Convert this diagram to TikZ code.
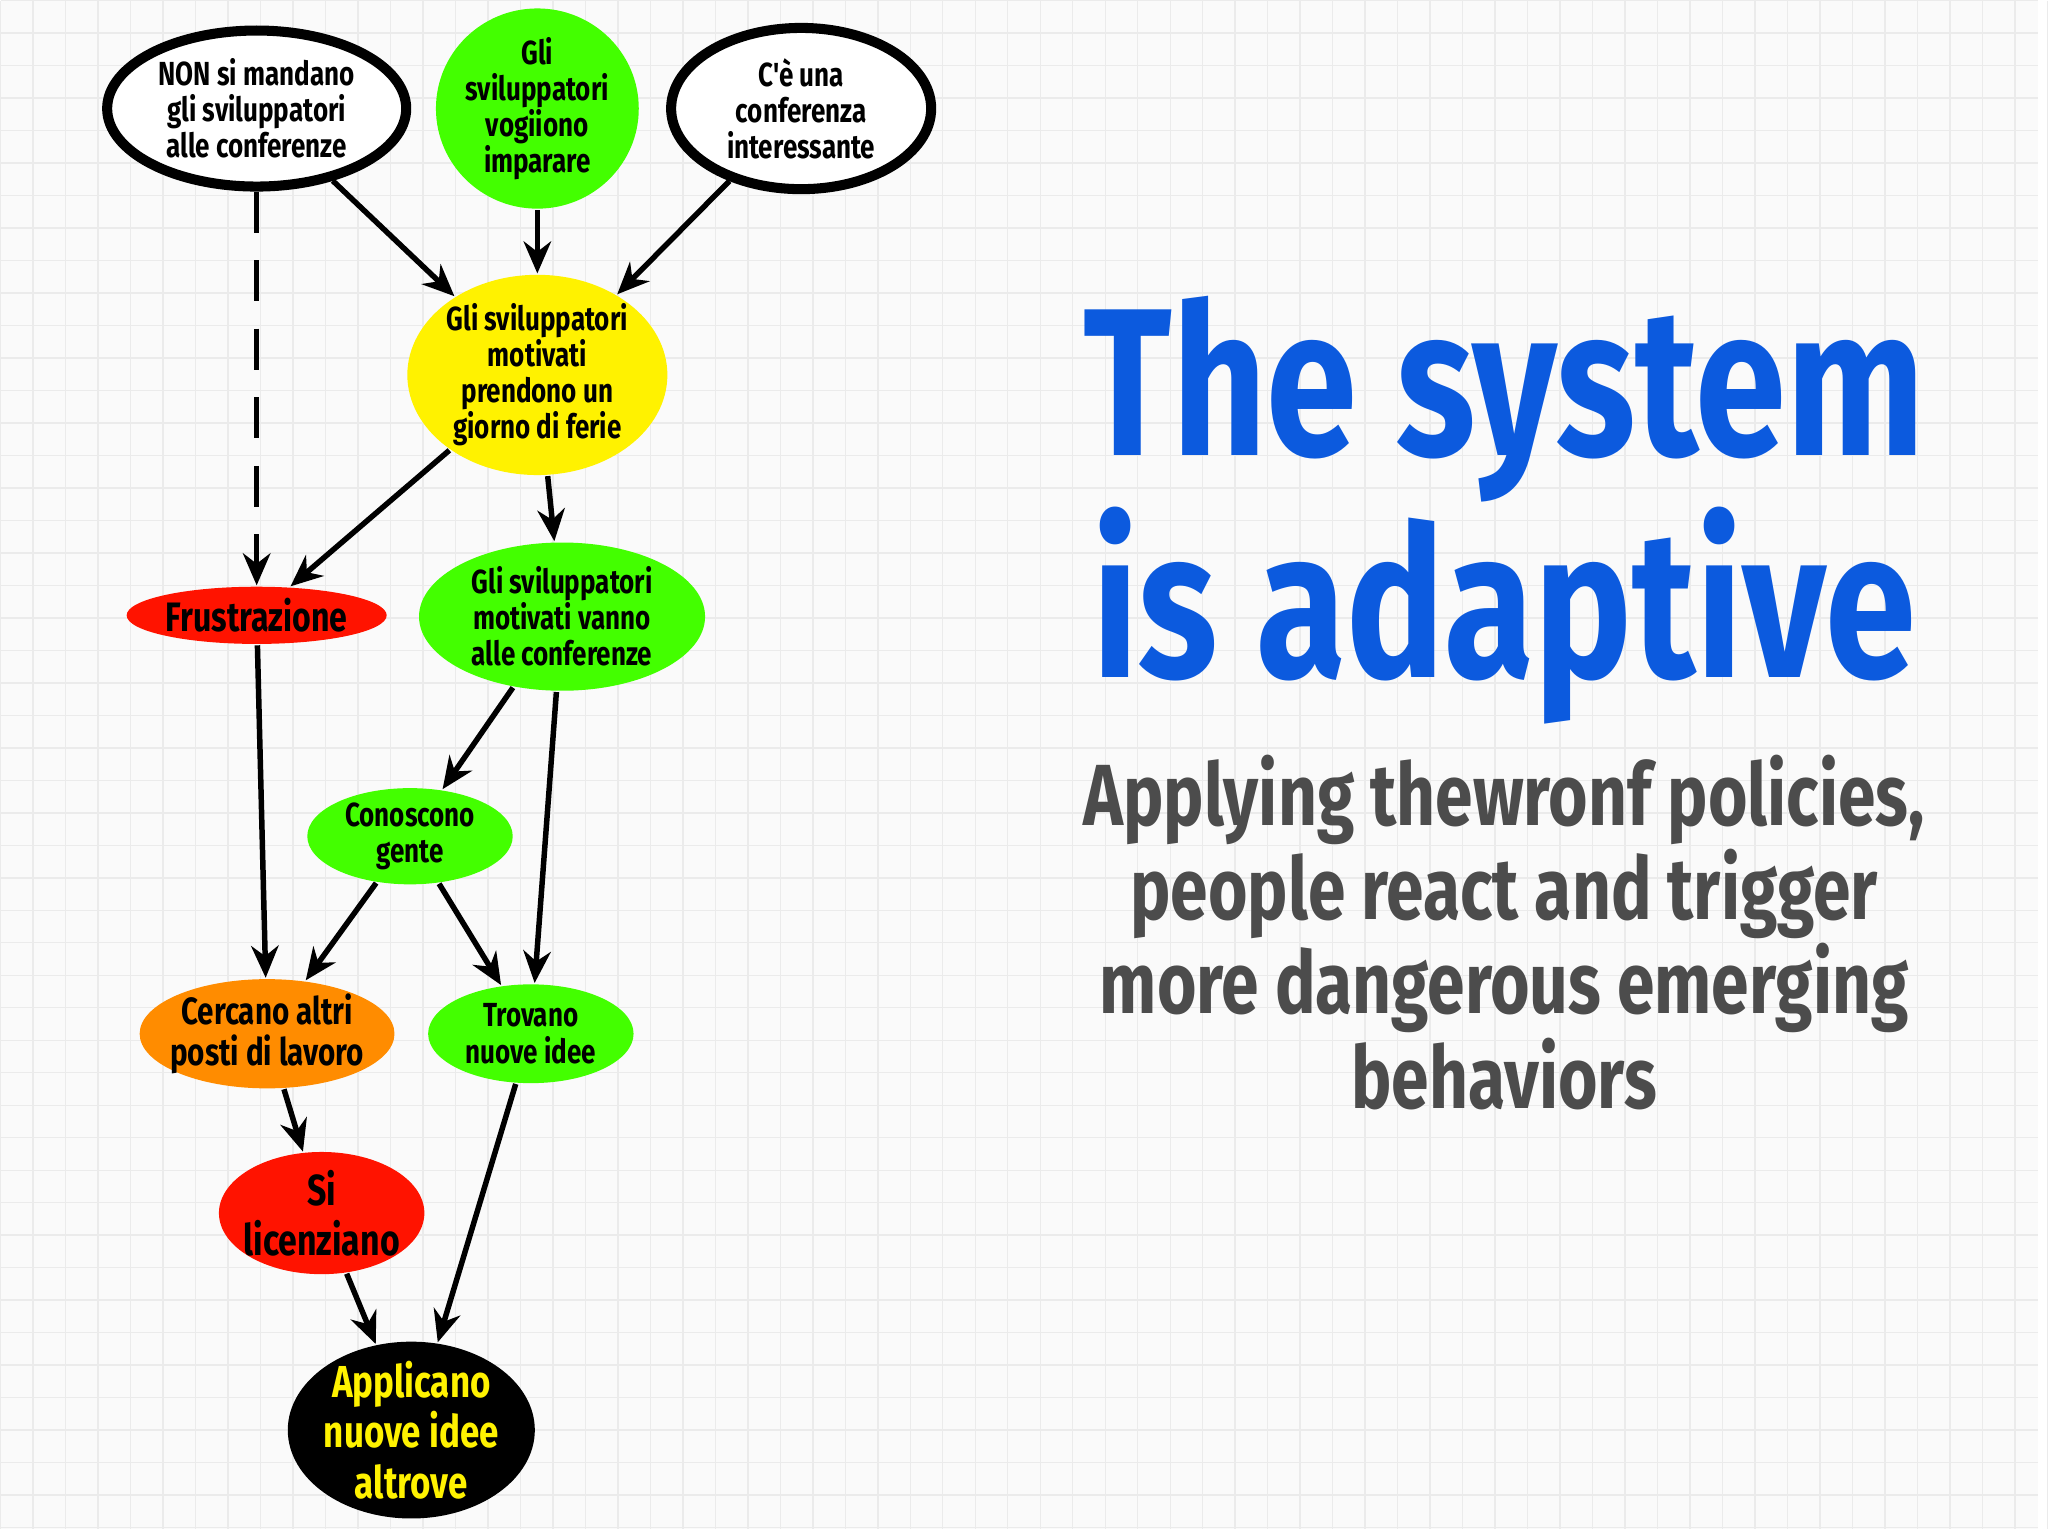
\documentclass[tikz,border=0pt]{standalone}
\usepackage{fontspec}
\setmainfont{Fira Sans}
\newfontfamily\cond[FakeStretch=0.78]{Fira Sans}
\usetikzlibrary{shapes.geometric,arrows.meta}
\definecolor{titleblue}{RGB}{12,90,222}
\begin{document}
\begin{tikzpicture}[x=0.01cm,y=-0.01cm,
  nd/.style={ellipse,inner sep=-2pt,align=center,font=\cond\fontsize{7.3}{7.9}\selectfont\bfseries,line width=0.6pt},
  arr/.style={-{Stealth[length=7pt,width=6pt]},line width=1.2pt}]
\fill[white!96!gray] (0,0) rectangle (1568,1176);
\foreach \i in {0,25,...,1575} \draw[black!8,line width=0.3pt] (\i,0) -- (\i,1176);
\foreach \j in {0,25,...,1175} \draw[black!8,line width=0.3pt] (0,\j) -- (1568,\j);
\useasboundingbox (0,0) rectangle (1568,1176);
\node[nd,draw,line width=2.2pt,fill=white,minimum width=2.30cm,minimum height=1.20cm] (n1) at (197,83) {NON si mandano\\gli sviluppatori\\alle conferenze};
\node[nd,fill=green!65!lime,minimum width=1.56cm,minimum height=1.54cm] (n2) at (413,83) {Gli\\sviluppatori\\vogiiono\\imparare};
\node[nd,draw,line width=2.2pt,fill=white,minimum width=2.00cm,minimum height=1.24cm] (n3) at (616,83) {C'è una\\conferenza\\interessante};
\node[nd,fill=yellow,minimum width=2.00cm,minimum height=1.54cm] (n4) at (413,288) {Gli sviluppatori\\motivati\\prendono un\\giorno di ferie};
\node[nd,fill=red!85!orange,minimum width=2.00cm,minimum height=0.44cm,font=\cond\fontsize{9}{10}\selectfont\bfseries] (n5) at (197,473) {Frustrazione};
\node[nd,fill=green!65!lime,minimum width=2.20cm,minimum height=1.14cm] (n6) at (432,474) {Gli sviluppatori\\motivati vanno\\alle conferenze};
\node[nd,fill=green!65!lime,minimum width=1.58cm,minimum height=0.74cm] (n7) at (315,643) {Conoscono\\gente};
\node[nd,fill=orange!90!yellow,minimum width=1.96cm,minimum height=0.84cm,font=\cond\fontsize{8.3}{9}\selectfont\bfseries] (n8) at (205,795) {Cercano altri\\posti di lavoro};
\node[nd,fill=green!65!lime,minimum width=1.58cm,minimum height=0.76cm] (n9) at (408,795) {Trovano\\nuove idee};
\node[nd,fill=red!85!orange,minimum width=1.58cm,minimum height=0.94cm,font=\cond\fontsize{9.5}{11}\selectfont\bfseries] (n10) at (247,933) {Si\\licenziano};
\node[nd,fill=black,text=yellow,minimum width=1.90cm,minimum height=1.36cm,font=\cond\fontsize{9.8}{11}\selectfont\bfseries] (n11) at (316,1100) {Applicano\\nuove idee\\altrove};
\draw[arr] (n1) -- (n4);
\draw[arr] (n2) -- (n4);
\draw[arr] (n3) -- (n4);
\draw[arr,dash pattern=on 9pt off 6pt] (n1.south) -- (n5.north);
\draw[arr] (n4) -- (n5);
\draw[arr] (n4) -- (n6);
\draw[arr] (n6) -- (n7);
\draw[arr] (n6) -- (n9);
\draw[arr] (n5) -- (n8);
\draw[arr] (n7) -- (n8);
\draw[arr] (n7) -- (n9);
\draw[arr] (n8) -- (n10);
\draw[arr] (n10) -- (n11);
\draw[arr] (n9) -- (n11);
\node[align=center,text=titleblue,font=\cond\fontsize{46}{46}\selectfont\bfseries] (title) at (1157,392) {The system\\is adaptive};
\node[align=center,text=black!70,font=\cond\fontsize{19}{19}\selectfont\bfseries] (sub) at (1157,717) {Applying thewronf policies,\\people react and trigger\\more dangerous emerging\\behaviors};
\end{tikzpicture}
\end{document}
